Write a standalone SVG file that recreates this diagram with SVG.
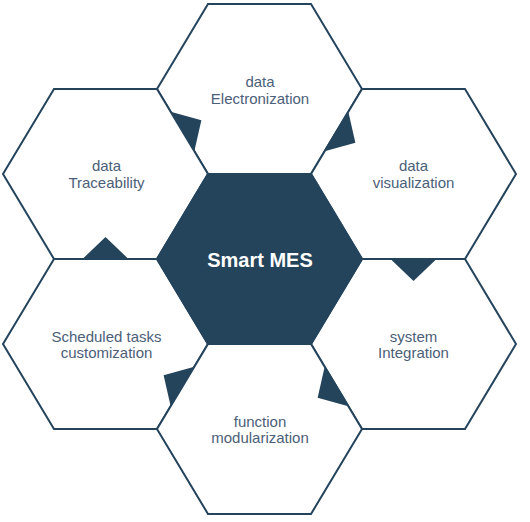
<svg xmlns="http://www.w3.org/2000/svg" width="530" height="522" viewBox="0 0 530 522">
  <style>
    .hex { fill: #ffffff; stroke: #24445c; stroke-width: 2; stroke-linejoin: miter; }
    .core { fill: #24445c; stroke: #24445c; stroke-width: 2; }
    .lbl { font-family: "Liberation Sans", Arial, sans-serif; font-size: 15px; fill: #4b6078; text-anchor: middle; }
    .title { font-family: "Liberation Sans", Arial, sans-serif; font-size: 20px; font-weight: bold; fill: #ffffff; text-anchor: middle; }
    .tri { fill: #24445c; }
  </style>
  <rect width="530" height="522" fill="#ffffff"/>
  <g id="node-electronization">
    <polygon class="hex" points="157,89 208,4 311,4 362,89 311,174 208,174"/>
    <text class="lbl" x="260" y="86.5">data</text>
    <text class="lbl" x="260" y="103.5">Electronization</text>
  </g>
  <g id="node-traceability">
    <polygon class="hex" points="3,174 54,89 157,89 208,174 157,259 54,259"/>
    <text class="lbl" x="106.5" y="171">data</text>
    <text class="lbl" x="106.5" y="188">Traceability</text>
  </g>
  <g id="node-visualization">
    <polygon class="hex" points="311,174 362,89 465,89 516,174 465,259 362,259"/>
    <text class="lbl" x="413.5" y="171">data</text>
    <text class="lbl" x="413.5" y="188">visualization</text>
  </g>
  <g id="node-scheduled">
    <polygon class="hex" points="3,344 54,259 157,259 208,344 157,429 54,429"/>
    <text class="lbl" x="106.5" y="341.5">Scheduled tasks</text>
    <text class="lbl" x="106.5" y="358">customization</text>
  </g>
  <g id="node-integration">
    <polygon class="hex" points="311,344 362,259 465,259 516,344 465,429 362,429"/>
    <text class="lbl" x="413.5" y="341.5">system</text>
    <text class="lbl" x="413.5" y="358">Integration</text>
  </g>
  <g id="node-modularization">
    <polygon class="hex" points="157,429 208,344 311,344 362,429 311,514 208,514"/>
    <text class="lbl" x="260" y="426.5">function</text>
    <text class="lbl" x="260" y="443">modularization</text>
  </g>
  <g id="node-smart-mes">
    <polygon class="core" points="157,259 208,174 311,174 362,259 311,344 208,344"/>
    <text class="title" x="260" y="267">Smart MES</text>
  </g>
  <g id="connectors">
    <polygon class="tri" points="170.67,111.78 194.33,151.22 201.37,120.18"/>
    <polygon class="tri" points="348.33,111.78 324.67,151.22 355.37,142.82"/>
    <polygon class="tri" points="390.5,259 436.5,259 413.5,281"/>
    <polygon class="tri" points="324.67,366.78 348.33,406.22 317.63,397.82"/>
    <polygon class="tri" points="194.33,366.78 170.67,406.22 163.63,375.18"/>
    <polygon class="tri" points="82.5,259 128.5,259 105.5,237"/>
  </g>
</svg>
